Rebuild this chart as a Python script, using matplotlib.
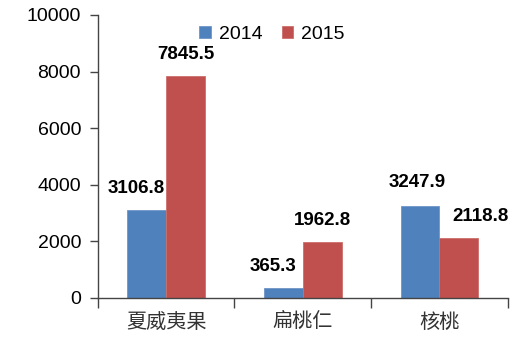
import numpy as np
import matplotlib
matplotlib.use("Agg")
import matplotlib.pyplot as plt

categories = ["夏威夷果", "扁桃仁", "核桃"]
years = ["2014", "2015"]
values_2014 = [3106.8, 365.3, 3247.9]
values_2015 = [7845.5, 1962.8, 2118.8]

# label nudges (px) copied from the reference layout
off_2014 = [(-10, 0), (-10, 0), (-3, 2)]
off_2015 = [(0, 0), (0, 0), (22, 0)]

plt.rcParams["font.family"] = ["Liberation Sans", "DejaVu Sans"]
cjk = ["Noto Sans CJK SC", "DejaVu Sans"]

fig = plt.figure(figsize=(5.29, 3.48), dpi=100)
ax = fig.add_axes([0.1847, 0.1437, 0.7753, 0.8133])

x = np.arange(len(categories))
w = 0.285
b1 = ax.bar(x - w / 2, values_2014, w, color="#4F81BD", label=years[0],
            edgecolor="#6E95C8", linewidth=0.6)
b2 = ax.bar(x + w / 2, values_2015, w, color="#C0504D", label=years[1],
            edgecolor="#CD6E6B", linewidth=0.6)

px = 72 / 100
for bars, vals, offs in [(b1, values_2014, off_2014), (b2, values_2015, off_2015)]:
    for r, v, (dx, dy) in zip(bars, vals, offs):
        ax.annotate(f"{v:.1f}", (r.get_x() + r.get_width() / 2, v),
                    xytext=(dx * px, (13 + dy) * px), textcoords="offset points",
                    ha="center", va="bottom", fontsize=13.5, fontweight="bold")

ax.set_xlim(-0.5, len(categories) - 0.5)
ax.set_ylim(0, 10000)
ax.set_yticks(range(0, 10001, 2000))
ax.tick_params(axis="y", labelsize=14, length=6, width=1, color="#444444", pad=6)
ax.set_xticks(np.arange(-0.5, len(categories), 1))
ax.set_xticklabels([])
ax.set_xticks(x, minor=True)
ax.set_xticklabels(categories, minor=True, fontfamily=cjk, fontsize=14.5,
                   color="#333333")
ax.tick_params(axis="x", which="major", length=7, width=1, color="#444444")
ax.tick_params(axis="x", which="minor", length=0, pad=10)

for s in ["top", "right"]:
    ax.spines[s].set_visible(False)
for s in ["left", "bottom"]:
    ax.spines[s].set_color("#444444")
    ax.spines[s].set_linewidth(1)

ax.legend(loc="upper center", bbox_to_anchor=(0.425, 1.0), ncol=2, frameon=False,
          fontsize=14, handlelength=0.6, handleheight=0.6, handletextpad=0.4,
          columnspacing=1.0, borderaxespad=0.15)

fig.savefig("out.png", dpi=100)
